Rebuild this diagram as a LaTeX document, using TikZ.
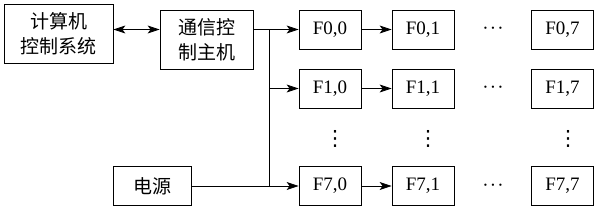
\documentclass[tikz,border=0pt]{standalone}
\usepackage{fontspec}
\setmainfont{Liberation Serif}
\newfontfamily\cjk{Noto Sans CJK SC}
\newfontfamily\symfont{DejaVu Sans}
\usetikzlibrary{arrows.meta,positioning}

\begin{document}
\begin{tikzpicture}[
  x=1pt, y=-1pt,
  font=\fontsize{19}{25}\selectfont,
  box/.style={draw, line width=0.8pt, inner sep=0pt, align=center, minimum height=39pt},
  cell/.style={box, minimum width=62pt},
  arrow/.style={-{Stealth[length=12pt, width=8pt, inset=3pt]}, line width=0.8pt},
  biarrow/.style={{Stealth[length=12pt, width=8pt, inset=3pt]}-{Stealth[length=12pt, width=8pt, inset=3pt]}, line width=0.8pt},
  hdots/.style={inner sep=0pt, font=\fontsize{19}{19}\selectfont},
  vdots/.style={inner sep=0pt, font=\symfont\fontsize{21}{21}\selectfont},
]
  \useasboundingbox (0,0) rectangle (598,210);
  % left blocks
  \node[box, minimum width=109pt, minimum height=59pt] (pc) at (58.5,33.5) {\cjk 计算机\\\cjk 控制系统};
  \node[box, minimum width=93pt, minimum height=59pt] (host) at (206.5,39.5) {\cjk 通信控\\\cjk 制主机};
  \node[box, minimum width=78pt] (power) at (152,186) {\cjk 电源};
  % nodes F
  \node[cell] (f00) at (330,29.5) {F0,0};
  \node[cell] (f01) at (423,29.5) {F0,1};
  \node[cell] (f07) at (562.5,29.5) {F0,7};
  \node[cell] (f10) at (330,88.5) {F1,0};
  \node[cell] (f11) at (423,88.5) {F1,1};
  \node[cell] (f17) at (562.5,88.5) {F1,7};
  \node[cell] (f70) at (330,186) {F7,0};
  \node[cell] (f71) at (423,186) {F7,1};
  \node[cell] (f77) at (562.5,186) {F7,7};
  \node[hdots] (h0) at (493,31) {·\kern1.2pt·\kern1.2pt·};
  \node[hdots] (h1) at (493,90) {·\kern1.2pt·\kern1.2pt·};
  \node[hdots] (h7) at (493,187.5) {·\kern1.2pt·\kern1.2pt·};
  \node[vdots] (v0) at (335,139) {⋮};
  \node[vdots] (v1) at (428,139) {⋮};
  \node[vdots] (v7) at (568,139) {⋮};
  % connections
  \coordinate (bus) at (269,29.5);
  \draw[biarrow] (pc.east |- f00) -- (host.west |- f00);
  \draw[line width=0.8pt] (host.east |- f00) -- (bus) -- (bus |- f70);
  \draw[arrow] (bus) -- (f00.west);
  \draw[arrow] (bus |- f10) -- (f10.west);
  \draw[arrow] (power.east) -- (f70.west);
  \draw[arrow] (f00) -- (f01);
  \draw[arrow] (f10) -- (f11);
  \draw[arrow] (f70) -- (f71);
\end{tikzpicture}
\end{document}
